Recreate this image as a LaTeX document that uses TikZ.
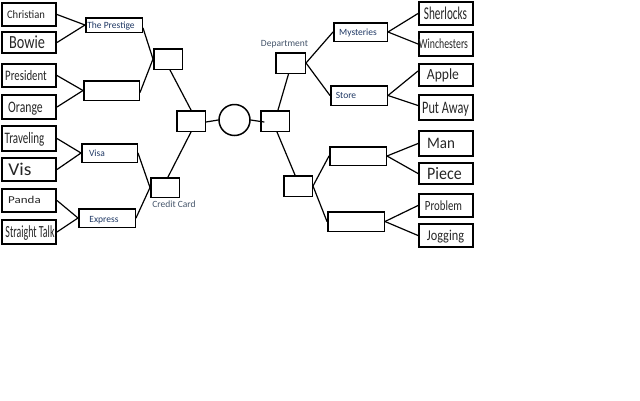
\documentclass[tikz,border=0pt]{standalone}
\usepackage{fontspec}
\setmainfont{Carlito}
\usepackage{graphicx}
\definecolor{leaftxt}{HTML}{262626}
\definecolor{navytxt}{HTML}{1F3864}
\definecolor{slatetxt}{HTML}{44546A}
% #1 x-scale, #2 y-scale, #3 twice the horizontal shift (pt), #4 text
\newcommand{\lbl}[4]{\makebox[0pt]{\hspace*{#3pt}\smash{\raisebox{-#2\dimexpr3.22pt\relax}{\scalebox{#1}[#2]{#4}}}}}
\tikzset{
  leaf/.style={draw, line width=2pt, inner sep=0pt, minimum width=54pt,
    font=\fontsize{10}{12}\selectfont, text=leaftxt},
  midbox/.style={draw, line width=1.5pt, inner sep=0pt,
    font=\fontsize{10}{12}\selectfont, text=navytxt},
  conn/.style={line width=1.2pt, line cap=round},
  side/.style={font=\fontsize{9.5}{11}\selectfont, text=slatetxt, inner sep=0pt}
}
\begin{document}
\begin{tikzpicture}[x=1pt, y=-1pt]
\useasboundingbox (0,0) rectangle (640,400);
% left leaves
\node[leaf, minimum height=23pt] (christian) at (29,14.5) {\lbl{1.06}{1.15}{-6}{Christian}};
\node[leaf, minimum height=21pt] (bowie) at (29,42.5) {\lbl{1.43}{1.85}{-4}{Bowie}};
\node[leaf, minimum height=23pt] (president) at (29,75.5) {\lbl{1.08}{1.45}{-6}{President}};
\node[leaf, minimum height=24pt] (orange) at (29,107) {\lbl{1.17}{1.6}{-7}{Orange}};
\node[leaf, minimum height=25pt] (traveling) at (29,138.5) {\lbl{1.1}{1.6}{-9}{Traveling}};
\node[leaf, minimum height=23pt] (vis) at (29,169.5) {\lbl{1.95}{1.8}{-18}{Vis}};
\node[leaf, minimum height=23pt] (panda) at (29,200.5) {\lbl{1.3}{1.05}{-9}{Panda}};
\node[leaf, minimum height=24pt] (straight) at (29,232) {\lbl{0.99}{1.7}{2}{Straight Talk}};
% right leaves
\node[leaf, minimum height=23pt] (sherlocks) at (446,13.5) {\lbl{1.12}{1.8}{-1}{Sherlocks}};
\node[leaf, minimum height=24pt] (winchesters) at (446,44) {\lbl{0.98}{1.4}{-5}{Winchesters}};
\node[leaf, minimum height=22pt] (apple) at (446,75) {\lbl{1.36}{1.55}{-6}{Apple}};
\node[leaf, minimum height=25pt] (putaway) at (446,107.5) {\lbl{1.23}{1.75}{-1}{Put Away}};
\node[leaf, minimum height=25pt] (man) at (446,143.5) {\lbl{1.5}{1.6}{-10}{Man}};
\node[leaf, minimum height=21pt] (piece) at (446,173.5) {\lbl{1.6}{1.75}{-3}{Piece}};
\node[leaf, minimum height=23pt] (problem) at (446,205.5) {\lbl{1.08}{1.4}{-5}{Problem}};
\node[leaf, minimum height=23pt] (jogging) at (446,235.5) {\lbl{1.23}{1.5}{-1}{Jogging}};
% left middle boxes
\node[midbox, minimum width=56.5pt, minimum height=14.5pt] (prestige) at (114,25) {\lbl{0.95}{0.95}{-6}{The Prestige}};
\node[midbox, minimum width=55.5pt, minimum height=19.5pt] (leftblank) at (111.5,90.5) {};
\node[midbox, minimum width=55.5pt, minimum height=18.5pt] (visa) at (109.5,153) {\lbl{0.95}{0.95}{-25}{Visa}};
\node[midbox, minimum width=56.5pt, minimum height=18.5pt] (express) at (107,218) {\raisebox{-2pt}{\lbl{0.95}{0.95}{-6}{Express}}};
\node[midbox, minimum width=28.5pt, minimum height=20.5pt] (topleft) at (168,59) {};
\node[midbox, minimum width=28.5pt, minimum height=19.5pt,
  label={[side, anchor=north, xshift=9pt, yshift=-3pt]south:Credit Card}] (credit) at (165,187.5) {};
\node[midbox, minimum width=28.5pt, minimum height=20.5pt] (cleft) at (191,121) {};
% hub
\node[draw, circle, line width=1.5pt, minimum size=31pt, inner sep=0pt] (hub) at (234.5,120) {};
% right side
\node[midbox, minimum width=28.5pt, minimum height=20.5pt] (cright) at (275,121) {};
\node[midbox, minimum width=29.5pt, minimum height=20.5pt,
  label={[side, anchor=south, xshift=-6pt, yshift=3.5pt]north:Department}] (dept) at (290.5,63) {};
\node[midbox, minimum width=28.5pt, minimum height=20.5pt] (rbottom) at (298,186) {};
\node[midbox, minimum width=53.5pt, minimum height=18.5pt] (mysteries) at (360.5,32) {\lbl{0.95}{0.95}{-5}{Mysteries}};
\node[midbox, minimum width=56.5pt, minimum height=19.5pt] (store) at (359,95.5) {\lbl{0.95}{0.95}{-26}{Store}};
\node[midbox, minimum width=56.5pt, minimum height=18.5pt] (rblank1) at (358,156) {};
\node[midbox, minimum width=56.5pt, minimum height=19.5pt] (rblank2) at (356,221.5) {};
% connectors left
\draw[conn] (christian.east) -- (prestige.west);
\draw[conn] (bowie.east) -- (prestige.west);
\draw[conn] (president.east) -- (leftblank.west);
\draw[conn] (orange.east) -- (leftblank.west);
\draw[conn] (traveling.east) -- (visa.west);
\draw[conn] (vis.east) -- (visa.west);
\draw[conn] (panda.east) -- (express.west);
\draw[conn] (straight.east) -- (express.west);
\draw[conn] ([yshift=-3pt]prestige.east) -- (topleft.west);
\draw[conn] ([yshift=-2pt]leftblank.east) -- (topleft.west);
\draw[conn] (visa.east) -- (credit.west);
\draw[conn] (express.east) -- (credit.west);
\draw[conn] ([xshift=2pt]topleft.south) -- (cleft.north);
\draw[conn] ([xshift=3pt]credit.north) -- (cleft.south);
\draw[conn] ([yshift=-1pt]cleft.east) -- (hub.west);
\draw[conn] (hub.east) -- ([xshift=4pt,yshift=-1pt]cright.west);
% connectors right
\draw[conn] ([xshift=3pt]cright.north) -- ([xshift=-2pt]dept.south);
\draw[conn] ([xshift=2pt]cright.south) -- ([xshift=-3pt]rbottom.north);
\draw[conn] (dept.east) -- (mysteries.west);
\draw[conn] (dept.east) -- (store.west);
\draw[conn] (mysteries.east) -- (sherlocks.west);
\draw[conn] (mysteries.east) -- (winchesters.west);
\draw[conn] (store.east) -- ([yshift=4pt]apple.west);
\draw[conn] (store.east) -- ([yshift=2pt]putaway.west);
\draw[conn] (rbottom.east) -- (rblank1.west);
\draw[conn] (rbottom.east) -- (rblank2.west);
\draw[conn] (rblank1.east) -- (man.west);
\draw[conn] (rblank1.east) -- (piece.west);
\draw[conn] (rblank2.east) -- (problem.west);
\draw[conn] (rblank2.east) -- (jogging.west);
\end{tikzpicture}
\end{document}
